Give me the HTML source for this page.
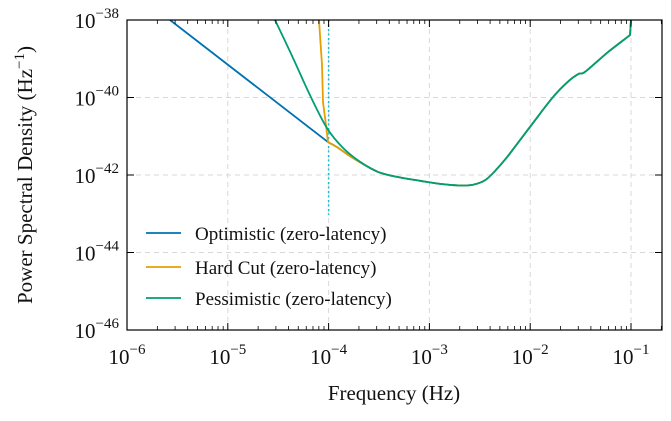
<!DOCTYPE html>
<html><head><meta charset="utf-8"><style>
body{margin:0;background:#fff;}
svg text{font-family:"Liberation Serif","DejaVu Serif",serif;fill:#111;}
</style></head><body>
<svg id="chart" width="671" height="416" viewBox="0 0 671 416" xmlns="http://www.w3.org/2000/svg">
<g id="grid"></g>
<g id="series"></g>
<g id="axes"></g>
<g id="legend"></g>
</svg>
<script>
// data: log10(frequency), log10(PSD)
const xTicks = [-6,-5,-4,-3,-2,-1];
const yTicks = [-46,-44,-42,-40,-38];
const tailLogF = [-3.510,-3.30,-3.093,-2.895,-2.70,-2.567,-2.45,-2.35,-2.230,-2.002,-1.774,-1.62,-1.52,-1.456,-1.238,-1.010];
const tailLogP = [-41.92,-42.06,-42.15,-42.23,-42.27,-42.25,-42.14,-41.90,-41.54,-40.76,-39.99,-39.58,-39.39,-39.34,-38.85,-38.39];
const topLogF = -1.0;
const topLogP = -38.0;
const optLogF = [-5.573,-4.006];
const optLogP = [-38.0,-41.15];
const mergeLogF = [-3.917,-3.758];
const mergeLogP = [-41.28,-41.56];
const hardLogF = [-4.095,-4.065,-4.056,-4.026,-4.006];
const hardLogP = [-38.0,-39.16,-40.12,-40.71,-41.15];
const pessLogF = [-4.532,-4.353,-4.185,-4.016,-3.857,-3.688];
const pessLogP = [-38.0,-38.98,-39.94,-40.79,-41.30,-41.66];
const cutoffLogF = -4.0;
const seriesNames = ["Optimistic (zero-latency)","Hard Cut (zero-latency)","Pessimistic (zero-latency)"];
const seriesColors = ["#0072b2","#e69f00","#009e73"];

const L=127,R=662,T=20,B=330;
const X=v=>L+(v+6)*100.8;
const Y=v=>T+(-38-v)*38.75;
const NS="http://www.w3.org/2000/svg";
function mk(tag,attrs,parent){const e=document.createElementNS(NS,tag);for(const k in attrs)e.setAttribute(k,attrs[k]);parent.appendChild(e);return e;}
const grid=document.getElementById('grid'),axes=document.getElementById('axes'),series=document.getElementById('series'),legend=document.getElementById('legend');

xTicks.forEach(t=>{
  const g=mk('line',{x1:X(t),x2:X(t),y1:T,y2:B,stroke:'#d8d8d8','stroke-dasharray':'5,4','stroke-width':1},grid);
  
  
  for(const yy of [[B,B-7],[T,T+7]]){const tk=mk('line',{x1:X(t),x2:X(t),y1:yy[0],y2:yy[1],stroke:'#000','stroke-width':1},axes);
  
  }
  for(let m=2;m<10;m++){const xv=t+Math.log10(m);if(X(xv)>R)break;
    for(const yy of [[B,B-4],[T,T+4]]){const mt=mk('line',{x1:X(xv),x2:X(xv),y1:yy[0],y2:yy[1],stroke:'#000','stroke-width':0.8},axes);
    
    }}
  const tx=mk('text',{x:X(t),y:364,'font-size':21,'text-anchor':'middle'},axes);
  
  
  tx.innerHTML='10<tspan dy="-10" font-size="15">\u2212'+Math.abs(t)+'</tspan>';
});
yTicks.forEach(t=>{
  if(t>-46&&t<-38){const g=mk('line',{x1:L,x2:R,y1:Y(t),y2:Y(t),stroke:'#d8d8d8','stroke-dasharray':'5,4','stroke-width':1},grid);
  
  }
  for(const xx of [[L,L+7],[R,R-7]]){const tk=mk('line',{x1:xx[0],x2:xx[1],y1:Y(t),y2:Y(t),stroke:'#000','stroke-width':1},axes);
  
  }
  const tx=mk('text',{x:119,y:Y(t)+8,'font-size':21,'text-anchor':'end'},axes);
  
  
  tx.innerHTML='10<tspan dy="-10" font-size="15">\u2212'+Math.abs(t)+'</tspan>';
});
const frame=mk('rect',{x:L,y:T,width:R-L,height:B-T,fill:'none',stroke:'#000','stroke-width':1.2},axes);


const xt=mk('text',{x:394,y:400,'font-size':21,'text-anchor':'middle'},axes);


xt.textContent='Frequency (Hz)';
const yt=mk('text',{x:0,y:0,'font-size':21,'text-anchor':'middle',transform:'translate(32,175) rotate(-90)'},axes);


yt.innerHTML='Power Spectral Density (Hz<tspan dy="-8" font-size="15">\u22121</tspan><tspan dy="8">)</tspan>';

const cut=mk('line',{x1:X(cutoffLogF),x2:X(cutoffLogF),y1:T,y2:215,stroke:'#17becf','stroke-width':1.5,'stroke-dasharray':'2,2.5'},series);



function spline(pts){
  let d='';
  for(let i=0;i<pts.length-1;i++){
    const p0=pts[Math.max(0,i-1)],p1=pts[i],p2=pts[i+1],p3=pts[Math.min(pts.length-1,i+2)];
    const c1=[p1[0]+(p2[0]-p0[0])/6,p1[1]+(p2[1]-p0[1])/6];
    const c2=[p2[0]-(p3[0]-p1[0])/6,p2[1]-(p3[1]-p1[1])/6];
    d+=' C'+c1[0].toFixed(1)+','+c1[1].toFixed(1)+' '+c2[0].toFixed(1)+','+c2[1].toFixed(1)+' '+p2[0].toFixed(1)+','+p2[1].toFixed(1);
  }
  return d;
}
function toPts(fs,ps){return fs.map((f,i)=>[X(f),Y(ps[i])]);}
function buildPath(pf,pp,straightPrefix,useMerge){
  const pre=toPts(pf,pp);
  let rest=(useMerge?toPts(mergeLogF,mergeLogP):[]).concat(toPts(tailLogF,tailLogP));
  let d='M'+pre[0][0].toFixed(1)+','+pre[0][1].toFixed(1);
  if(straightPrefix){
    for(let i=1;i<pre.length;i++)d+=' L'+pre[i][0].toFixed(1)+','+pre[i][1].toFixed(1);
    d+=spline([pre[pre.length-1]].concat(rest));
  } else {
    d+=spline(pre.concat(rest));
  }
  d+=' L'+X(topLogF).toFixed(1)+','+Y(topLogP).toFixed(1);
  return d;
}
const pathDefs=[[optLogF,optLogP,true,true],[hardLogF,hardLogP,true,true],[pessLogF,pessLogP,false,false]];
const names=['optimistic-line','hard-cut-line','pessimistic-line'];
pathDefs.forEach((s,i)=>{
  const p=mk('path',{d:buildPath(s[0],s[1],s[2],s[3]),fill:'none',stroke:seriesColors[i],'stroke-width':1.8,'stroke-linejoin':'round'},series);
  
  
});
const legY=[233,267,298];
seriesNames.forEach((n,i)=>{
  const ln=mk('line',{x1:146,x2:181,y1:legY[i],y2:legY[i],stroke:seriesColors[i],'stroke-width':1.8},legend);
  
  
  const t=mk('text',{x:195,y:legY[i]+7,'font-size':19},legend);
  
  
  t.textContent=n;
});
</script>
</body></html>
